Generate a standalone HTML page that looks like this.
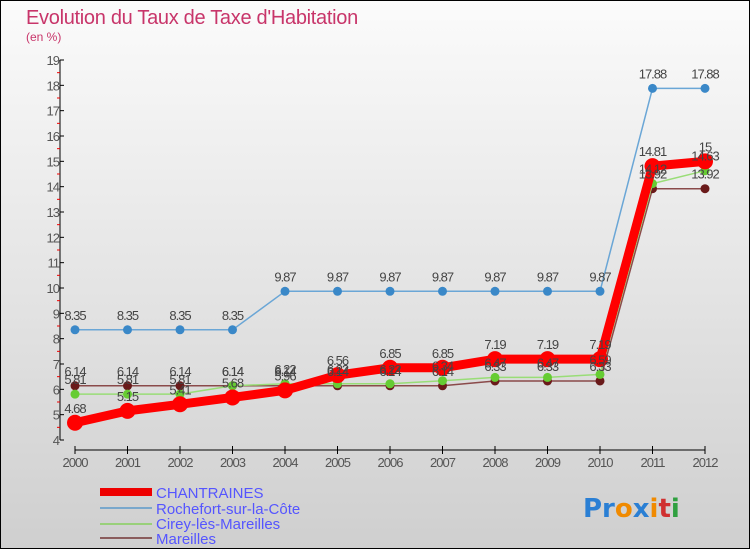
<!DOCTYPE html>
<html><head><meta charset="utf-8"><style>
body{margin:0;width:750px;height:550px;overflow:hidden;font-family:"Liberation Sans",sans-serif}
svg{display:block}
</style></head><body>
<svg id="c" width="750" height="550" xmlns="http://www.w3.org/2000/svg">
<defs><linearGradient id="bg" x1="0" y1="0" x2="0" y2="1"><stop offset="0" stop-color="#fbfbfb"/><stop offset="1" stop-color="#cfcfcf"/></linearGradient></defs>
<rect x="0.5" y="0.5" width="749" height="548" fill="url(#bg)" stroke="#000"/>
<text x="26" y="24" font-size="20" fill="#c8356a" letter-spacing="-0.3">Evolution du Taux de Taxe d'Habitation</text>
<text x="26" y="41" font-size="12" fill="#c8356a">(en %)</text>
<g id="axes"></g><g id="series"></g><g id="labels"></g>
<g>
<rect x="100" y="488" width="52" height="8" fill="#e00"/>
<text x="156" y="498" font-size="15" fill="#5555ff">CHANTRAINES</text>
<rect x="100" y="507" width="52" height="2" fill="#7aa8cc"/>
<text x="156" y="514" font-size="15" fill="#5555ff">Rochefort-sur-la-Côte</text>
<rect x="100" y="523" width="52" height="2" fill="#99d07a"/>
<text x="156" y="529" font-size="15" fill="#5555ff">Cirey-lès-Mareilles</text>
<rect x="100" y="537" width="52" height="2" fill="#8a5c5c"/>
<text x="156" y="544" font-size="15" fill="#5555ff">Mareilles</text>
</g>
<text x="583" y="517" font-size="26" font-weight="bold" font-family="'DejaVu Sans',sans-serif"><tspan fill="#2a7fd4">Pr</tspan><tspan fill="#f08a00">o</tspan><tspan fill="#2a7fd4">x</tspan><tspan fill="#f08a00">i</tspan><tspan fill="#d03030">t</tspan><tspan fill="#30a040">i</tspan></text>
</svg>
<script>
const years=[2000,2001,2002,2003,2004,2005,2006,2007,2008,2009,2010,2011,2012];
const yTicks=[4,5,6,7,8,9,10,11,12,13,14,15,16,17,18,19];
const chantraines=[4.68,5.15,5.41,5.68,5.96,6.56,6.85,6.85,7.19,7.19,7.19,14.81,15];
const rochefort=[8.35,8.35,8.35,8.35,9.87,9.87,9.87,9.87,9.87,9.87,9.87,17.88,17.88];
const cirey=[5.81,5.81,5.81,6.14,6.22,6.22,6.22,6.34,6.47,6.47,6.59,14.12,14.63];
const mareilles=[6.14,6.14,6.14,6.14,6.14,6.14,6.14,6.14,6.33,6.33,6.33,13.92,13.92];
const NS="http://www.w3.org/2000/svg";
const x=i=>75+i*52.5;
const y=v=>440-(v-4)*(380/15);
function mk(t,a,p){const e=document.createElementNS(NS,t);for(const k in a)e.setAttribute(k,a[k]);p.appendChild(e);return e;}
const ax=document.getElementById('axes');
let e=mk('line',{x1:60,y1:60,x2:60,y2:440,stroke:'#000'},ax);


e=mk('line',{x1:75,y1:450,x2:705,y2:450,stroke:'#000'},ax);


yTicks.forEach((v,i)=>{
  mk('line',{x1:60,y1:y(v),x2:64,y2:y(v),stroke:'#000'},ax);
  if(i<yTicks.length-1)mk('line',{x1:57,y1:y(v+0.5),x2:60,y2:y(v+0.5),stroke:'#e00'},ax);
  const t=mk('text',{x:59,y:y(v)+5,'font-size':13,fill:'#555','text-anchor':'end','letter-spacing':'-1'},ax);
  t.textContent=v;
  
  
});
years.forEach((yr,i)=>{
  mk('line',{x1:x(i),y1:446,x2:x(i),y2:454,stroke:'#000'},ax);
  const t=mk('text',{x:x(i),y:467,'font-size':13,fill:'#555','text-anchor':'middle','letter-spacing':'-1'},ax);
  t.textContent=yr;
  
  
});
const sg=document.getElementById('series'),lg=document.getElementById('labels');
function series(name,vals,color,w,r,fill){
  const g=mk('g',{},sg);
  
  
  mk('polyline',{points:vals.map((v,i)=>x(i)+','+y(v)).join(' '),fill:'none',stroke:color,'stroke-width':w,'stroke-linejoin':'round'},g);
  vals.forEach((v,i)=>{
    const c=mk('circle',{cx:x(i),cy:y(v),r:r,fill:fill},g);
    
    
    const t=mk('text',{x:x(i),y:y(v)-10,'font-size':13,fill:'#444','text-anchor':'middle','letter-spacing':'-1'},lg);
    t.textContent=v;
    
    
  });
}
series('mareilles',mareilles,'#8a4a4a',1.5,4.5,'#6a1a1a');
series('cirey',cirey,'#99dd77',1.5,4.5,'#66cc33');
series('rochefort',rochefort,'#6aa6d6',1.5,4.5,'#3a88c8');
series('chantraines',chantraines,'#f00',9,8,'#f00');
</script>
</body></html>
